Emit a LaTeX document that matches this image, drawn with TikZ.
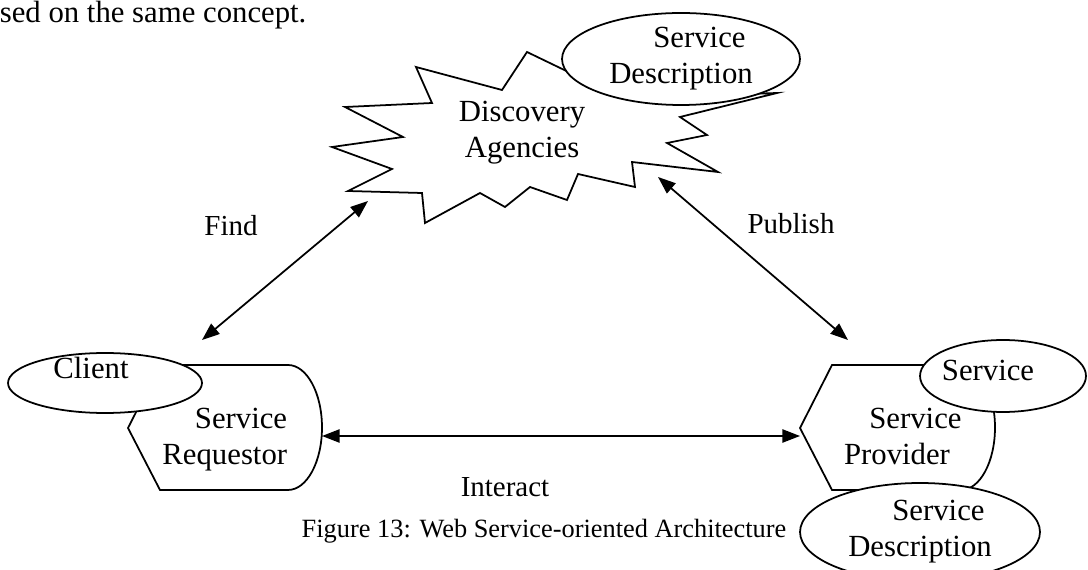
\documentclass[tikz,border=0pt]{standalone}
\usepackage{fontspec}
\setmainfont{Liberation Serif}
\usepackage{tikz}
\usetikzlibrary{arrows.meta}
\usetikzlibrary{shapes.geometric}

\begin{document}
\begin{tikzpicture}[x=0.02cm, y=-0.02cm, line width=1pt,
    every node/.style={inner sep=0pt, font=\fontsize{17.5}{20.5}\selectfont},
    oval/.style={ellipse, draw, fill=white, line width=1pt},
    tag/.style={font=\fontsize{16.5}{20}\selectfont},
    >={Triangle[length=10pt, width=7.5pt]}]

        \useasboundingbox (0,0) rectangle (1088,570);
        \clip (0,0) rectangle (1088,570);

        \node[anchor=base west] (intro) at (-1,23) {sed on the same concept.};

        \draw[fill=white] (416,67) -- (502,90) -- (527,52) -- (585,80) -- (720,95) -- (777,93)
            -- (680,117) -- (707,135) -- (667,143) -- (718,172) -- (632,162) -- (635,187)
            -- (578,174) -- (567,200) -- (530,187) -- (505,207) -- (480,193) -- (425,223)
            -- (422,193) -- (348,191) -- (392,169) -- (332,147) -- (403,137) -- (345,107)
            -- (432,103) -- cycle;
        \node[align=center] (agency) at (522,133) {Discovery\\Agencies};
        \node[oval, minimum width=4.76cm, minimum height=1.84cm, align=center] (topdesc) at (681,59) {\hspace*{1.2em}Service\\Description};

        \draw (128,428) -- (160,365) -- (288,365) arc[start angle=90, end angle=-90, x radius=0.68cm, y radius=1.25cm] -- (160,490) -- cycle;
        \node[align=right, anchor=east] (requestor) at (288,440) {Service\\Requestor};
        \node[oval, minimum width=3.88cm, minimum height=1.2cm] (client) at (105,383) {};
        \node (clientname) at (91,368) {Client};

        \draw (800,428) -- (832,365) -- (961,365) arc[start angle=90, end angle=-90, x radius=0.68cm, y radius=1.25cm] -- (832,490) -- cycle;
        \node[align=center] (provider) at (897,436) {\hspace*{1.2em}Service\\Provider};
        \node[oval, minimum width=3.32cm, minimum height=1.44cm] (service) at (1003,376) {};
        \node (servicename) at (988,370) {Service};
        \node[oval, minimum width=4.8cm, minimum height=1.96cm, align=center] (botdesc) at (920,532) {\hspace*{1.2em}Service\\Description};

        \coordinate (findtop) at (368,201);
        \coordinate (findbot) at (202,340);
        \coordinate (pubtop) at (658,177);
        \coordinate (pubbot) at (848,340);
        \coordinate (reqside) at (322,436);
        \coordinate (provside) at (800,436);

        \draw[<->] (findbot) -- (findtop);
        \draw[<->] (pubtop) -- (pubbot);
        \draw[<->] (reqside) -- (provside);

        \node[tag] (find) at (231,226) {Find};
        \node[tag] (publish) at (791,224) {Publish};
        \node[tag] (interact) at (505,487) {Interact};
        \node[font=\fontsize{15}{18}\selectfont] (caption) at (544,531) {Figure 13: Web Service-oriented Architecture};

    \end{tikzpicture}
\end{document}
